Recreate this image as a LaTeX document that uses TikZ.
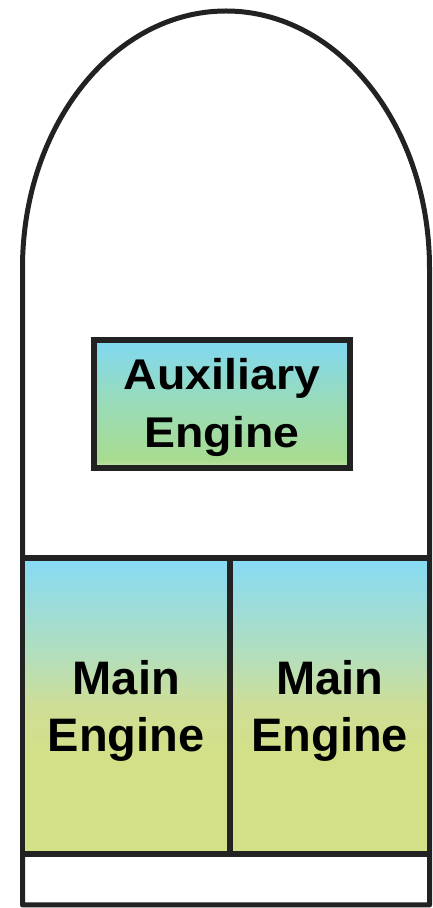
\documentclass[tikz,border=0pt]{standalone}
\usepackage{fontspec}
\setmainfont{Liberation Sans}
\usepackage{graphicx}
\definecolor{edge}{HTML}{222222}
\definecolor{mA}{HTML}{D3E088}
\definecolor{mB}{HTML}{CEDE96}
\definecolor{mC}{HTML}{B2DEBE}
\definecolor{mD}{HTML}{86DBF5}
\definecolor{aA}{HTML}{C8E6B0}
\definecolor{aB}{HTML}{A8DC90}
\definecolor{aC}{HTML}{9ADCB8}
\definecolor{aD}{HTML}{80D8F2}
\pgfdeclareverticalshading{mainshade}{100bp}{color(0bp)=(mA); color(25bp)=(mA); color(42bp)=(mA); color(50bp)=(mB); color(59bp)=(mC); color(75bp)=(mD); color(100bp)=(mD)}
\pgfdeclareverticalshading{auxshade}{100bp}{color(0bp)=(aA); color(25bp)=(aA); color(28bp)=(aB); color(50bp)=(aC); color(75bp)=(aD); color(100bp)=(aD)}
\tikzset{
  frame/.style={draw=edge, line width=5pt, fill=white, line join=round},
  mainbox/.style={draw=edge, line width=5.5pt, shading=mainshade, inner sep=0pt,
    minimum height=296pt},
  auxbox/.style={draw=edge, line width=5.5pt, shading=auxshade, inner sep=0pt,
    minimum width=256pt, minimum height=128pt},
  maintext/.style={inner sep=0pt, align=center, text=black,
    font=\fontsize{47}{57}\selectfont\bfseries},
  auxtext/.style={inner sep=0pt, align=center, text=black,
    font=\fontsize{43}{58}\selectfont\bfseries},
}
\begin{document}
\begin{tikzpicture}[x=1pt,y=1pt]
\useasboundingbox (0,0) rectangle (433,908);
\draw[frame] (22.5,3) -- (22.5,640)
  arc[start angle=180, end angle=0, x radius=203.5, y radius=257]
  -- (429.5,3) -- cycle;
\node[mainbox, minimum width=207.5pt] (m1) at (126.25,202) {};
\node[mainbox, minimum width=199.5pt] (m2) at (329.75,202) {};
\node[auxbox] (aux) at (222,504) {};
\node[maintext] (m1t) at ([yshift=-4.5pt]m1.center) {Main\\Engine};
\node[maintext] (m2t) at ([yshift=-4.5pt]m2.center) {Main\\Engine};
\node[auxtext] (auxt) at ([yshift=-3pt]aux.center) {\scalebox{1.08}[1]{Auxiliary}\\\scalebox{1.08}[1]{Engine}};
\end{tikzpicture}
\end{document}
